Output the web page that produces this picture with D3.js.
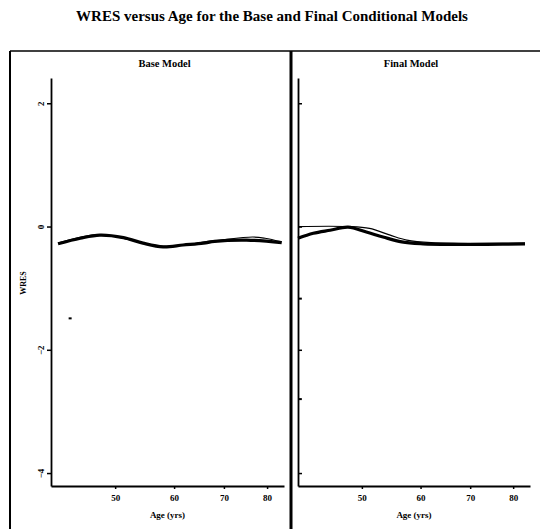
<!DOCTYPE html>
<html>
<head>
<meta charset="utf-8">
<script src="https://cdn.jsdelivr.net/npm/d3@7"></script>
<style>
  body { margin: 0; background: #fff; }
  text { font-family: "Liberation Serif", "DejaVu Serif", serif; font-weight: bold; fill: #000; }
</style>
</head>
<body>
<svg id="chart" width="540" height="529"></svg>
<script>
// Data
const panelTitles = ['Base Model', 'Final Model'];
const ageTicks = [50, 60, 70, 80];
const wresTicks = [2, 0, -2, -4];

// thick smoother, [age, WRES]
const baseSmooth = [[41.9, -0.28], [44.9, -0.19], [47.7, -0.14], [51.3, -0.18], [54.5, -0.27],
  [58.0, -0.33], [61.7, -0.30], [65.7, -0.27], [68.0, -0.24], [75.1, -0.22], [83.7, -0.26]];
const finalSmooth = [[41.0, -0.19], [43.0, -0.11], [45.3, -0.06], [47.9, -0.01], [50.7, -0.09],
  [53.4, -0.17], [56.6, -0.25], [60.5, -0.28], [66.4, -0.29], [73.7, -0.29], [83.0, -0.28]];

// thin reference line
const baseThin = [[41.9, -0.27], [47.7, -0.13], [58.0, -0.32], [68.0, -0.23], [76.5, -0.17], [79.5, -0.19], [83.7, -0.25]];
const finalThin = [[41.0, 0.0], [47.9, 0.0], [51.2, -0.03], [54.6, -0.14], [57.5, -0.22], [62.0, -0.26], [83.0, -0.27]];

// isolated residuals
const basePoints = [[43.5, -1.49]];
const finalPoints = [[41.3, -1.17], [41.3, -2.80]];

const svg = d3.select('#chart');

// Title
svg.append('text')
  .attr('x', 272).attr('y', 21)
  .attr('text-anchor', 'middle')
  .style('font-size', '15px')
  .text('WRES versus Age for the Base and Final Conditional Models');

// Outer frame and panel divider
svg.append('line').attr('x1', 10).attr('x2', 10).attr('y1', 51).attr('y2', 529)
  .attr('stroke', '#000').attr('stroke-width', 2);
svg.append('line').attr('x1', 10).attr('x2', 540).attr('y1', 51).attr('y2', 51)
  .attr('stroke', '#000').attr('stroke-width', 1.5);
svg.append('line').attr('x1', 291).attr('x2', 291).attr('y1', 51).attr('y2', 529)
  .attr('stroke', '#000').attr('stroke-width', 3);

const y = d3.scaleLinear().domain([-4.21, 2.41]).range([486, 78]);

const panels = [
  { title: panelTitles[0], range: [51, 284], smooth: baseSmooth, thin: baseThin, pts: basePoints, labels: true },
  { title: panelTitles[1], range: [298, 530], smooth: finalSmooth, thin: finalThin, pts: finalPoints, labels: false }
];

panels.forEach(p => {
  const x = d3.scaleLog().domain([41, 84.3]).range(p.range);
  const g = svg.append('g');
  const cx = (p.range[0] + p.range[1]) / 2;

  g.append('text')
    .attr('x', cx - 3).attr('y', 67)
    .attr('text-anchor', 'middle')
    .style('font-size', '10.5px')
    .text(p.title);

  // x axis
  const xAxis = d3.axisBottom(x).tickValues(ageTicks).tickFormat(d3.format('d')).tickSize(3).tickSizeOuter(0);
  const xg = g.append('g').attr('transform', 'translate(0,486)').call(xAxis);
  xg.select('.domain').attr('stroke-width', 1.8);
  xg.selectAll('.tick line').attr('stroke-width', 1.5);
  xg.selectAll('.tick text')
    .attr('dy', '1.05em')
    .style('font-size', '9px')
    .style('font-family', '"Liberation Serif", serif');

  g.append('text')
    .attr('x', cx).attr('y', 518)
    .attr('text-anchor', 'middle')
    .style('font-size', '9px')
    .text('Age (yrs)');

  // y axis
  const yAxis = d3.axisLeft(y).tickValues(wresTicks).tickSize(p.labels ? 4 : -4).tickSizeOuter(0)
    .tickFormat(p.labels ? d3.format('d') : '');
  const yg = g.append('g').attr('transform', `translate(${p.range[0]},0)`).call(yAxis);
  yg.select('.domain').attr('stroke-width', 1.8);
  yg.selectAll('.tick line').attr('stroke-width', 1.5);
  yg.selectAll('.tick text')
    .attr('x', null).attr('dy', null)
    .attr('text-anchor', 'middle')
    .attr('transform', 'translate(-7,0) rotate(-90)')
    .style('font-size', '9px')
    .style('font-family', '"Liberation Serif", serif');

  const line = d3.line().x(d => x(d[0])).y(d => y(d[1])).curve(d3.curveCatmullRom);

  g.append('path').datum(p.thin)
    .attr('d', line).attr('fill', 'none')
    .attr('stroke', '#000').attr('stroke-width', 1.2);
  g.append('path').datum(p.smooth)
    .attr('d', line).attr('fill', 'none')
    .attr('stroke', '#000').attr('stroke-width', 3.2);

  g.selectAll('.pt').data(p.pts).join('rect')
    .attr('x', d => x(d[0]) - 1.5).attr('y', d => y(d[1]) - 1)
    .attr('width', 3).attr('height', 2)
    .attr('fill', '#000');
});

// y axis title
svg.append('text')
  .attr('transform', 'translate(26,283) rotate(-90)')
  .attr('text-anchor', 'middle')
  .style('font-size', '8px')
  .text('WRES');
</script>
</body>
</html>
